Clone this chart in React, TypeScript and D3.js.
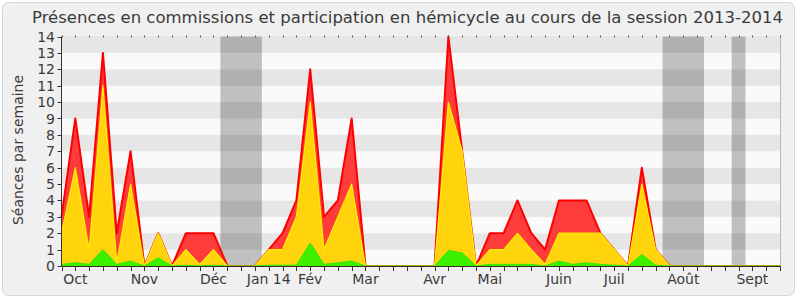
import React from "react";
import * as d3 from "d3";

const title = "Présences en commissions et participation en hémicycle au cours de la session 2013-2014";
const yAxisTitle = "Séances par semaine";

// weekly values (week index 0..52)
const redValues = [3, 9, 3, 13, 2, 7, 0, 2, 0, 2, 2, 2, 0, 0, 0, 1, 2, 4, 12, 3, 4, 9, 0, 0, 0, 0, 0, 0, 14, 7, 0, 2, 2, 4, 2, 1, 4, 4, 4, 2, 1, 0, 6, 1, 0, 0, 0, 0, 0, 0, 0, 0, 0];
const yellowValues = [2, 6, 1, 11, 0.2, 5, 0, 2, 0, 1, 0.1, 1, 0, 0, 0, 1, 1, 3, 10, 1, 3, 5, 0, 0, 0, 0, 0, 0, 10, 7, 0, 1, 1, 2, 1, 0.1, 2, 2, 2, 2, 1, 0, 5, 1, 0, 0, 0, 0, 0, 0, 0, 0, 0];
const greenValues = [0.1, 0.2, 0.1, 1, 0.1, 0.3, 0, 0.5, 0, 0.05, 0, 0.05, 0, 0, 0, 0.05, 0.05, 0.05, 1.4, 0.1, 0.2, 0.3, 0, 0, 0, 0, 0, 0, 0.95, 0.8, 0, 0.1, 0.1, 0.1, 0.1, 0, 0.3, 0.1, 0.2, 0.1, 0.05, 0, 0.7, 0.05, 0, 0, 0, 0, 0, 0, 0, 0, 0];

const monthLabels = ["Oct", "Nov", "Déc", "Jan 14", "Fév", "Mar", "Avr", "Mai", "Juin", "Juil", "Août", "Sept"];
const monthWeeks = [1, 6, 11, 15, 18, 22, 27, 31, 36, 40, 45, 50];

const vacationStarts = [11.5, 43.5, 48.5];
const vacationEnds = [14.5, 46.5, 49.5];

const yTicks = [0, 1, 2, 3, 4, 5, 6, 7, 8, 9, 10, 11, 12, 13, 14];

const W = 800;
const H = 300;
const left = 61.5;
const right = 780;
const top = 36.5;
const bottom = 266;

export default function App() {
  const n = redValues.length;
  const x = d3.scaleLinear().domain([0, n - 1]).range([left, right]);
  const y = d3.scaleLinear().domain([0, 14]).range([bottom, top]);
  const idx = d3.range(n);

  const area = (vals: number[]) =>
    d3.area<number>().x((i) => x(i)).y0(y(0)).y1((i) => y(vals[i]))(idx) || "";
  const line = (vals: number[]) =>
    d3.line<number>().x((i) => x(i)).y((i) => y(vals[i]))(idx) || "";

  const font = "'DejaVu Sans', Verdana, sans-serif";
  const textColor = "#3a3a3a";

  return (
    <div style={{ position: "fixed", left: 0, top: 0, width: W, height: H, background: "#fff" }}>
      <svg width={W} height={H} style={{ display: "block" }}>
        <rect x={2.5} y={2.5} width={792} height={293} rx={6} fill="#f0f0f0" stroke="#d6d6d6" />
        <text x={407.5} y={23} textAnchor="middle" fontFamily={font} fontSize={16.5} fill={textColor}>
          {title}
        </text>
        {/* stripes */}
        {yTicks.slice(0, -1).map((v) => (
          <rect
            key={"s" + v}
            x={left}
            width={right - left}
            y={y(v + 1)}
            height={y(v) - y(v + 1)}
            fill={v % 2 === 1 ? "#e6e6e6" : "#fafafa"}
          />
        ))}
        {/* vacations */}
        {vacationStarts.map((s, k) => (
          <rect
            key={"v" + k}
            x={x(s)}
            width={x(vacationEnds[k]) - x(s)}
            y={top}
            height={bottom - top}
            fill="#000"
            fillOpacity={0.23}
          />
        ))}
        {/* series */}
        <path d={area(redValues)} fill="#ff3c3c" />
        <path d={line(redValues)} fill="none" stroke="#ff0000" strokeWidth={2} strokeLinejoin="round" />
        <path d={area(yellowValues)} fill="#ffd40c" />
        <path d={line(yellowValues)} fill="none" stroke="#ffee00" strokeWidth={1.2} strokeLinejoin="round" />
        <path d={area(greenValues)} fill="#3cf000" />
        <path d={line(greenValues)} fill="none" stroke="#33e600" strokeWidth={1} strokeLinejoin="round" />
        {/* right border */}
        <line x1={right + 0.5} x2={right + 0.5} y1={top} y2={bottom} stroke="#b8b8b8" />
        {/* axes */}
        <line x1={left} x2={left} y1={top} y2={bottom} stroke="#333" />
        <line x1={left} x2={right + 1} y1={bottom + 0.5} y2={bottom + 0.5} stroke="#3a2a2a" />
        {yTicks.map((v) => (
          <g key={"yt" + v}>
            <line x1={left - 4} x2={left} y1={Math.round(y(v)) + 0.5} y2={Math.round(y(v)) + 0.5} stroke="#333" />
            <text
              x={55}
              y={y(v)}
              dy="0.36em"
              textAnchor="end"
              fontFamily={font}
              fontSize={14}
              fill={textColor}
            >
              {v}
            </text>
          </g>
        ))}
        {idx.map((i) => (
          <g key={"xt" + i}>
            <line x1={Math.round(x(i)) + 0.5} x2={Math.round(x(i)) + 0.5} y1={bottom} y2={bottom + 5} stroke="#333" />
            <line x1={Math.round(x(i)) + 0.5} x2={Math.round(x(i)) + 0.5} y1={top - 1} y2={top + 1} stroke="#555" />
          </g>
        ))}
        {monthLabels.map((m, k) => (
          <text
            key={"m" + m}
            x={x(monthWeeks[k])}
            y={284}
            textAnchor="middle"
            fontFamily={font}
            fontSize={14}
            fill={textColor}
          >
            {m}
          </text>
        ))}
        <text
          transform={`translate(23,150) rotate(-90)`}
          textAnchor="middle"
          fontFamily={font}
          fontSize={14}
          fill={textColor}
        >
          {yAxisTitle}
        </text>
      </svg>
    </div>
  );
}
